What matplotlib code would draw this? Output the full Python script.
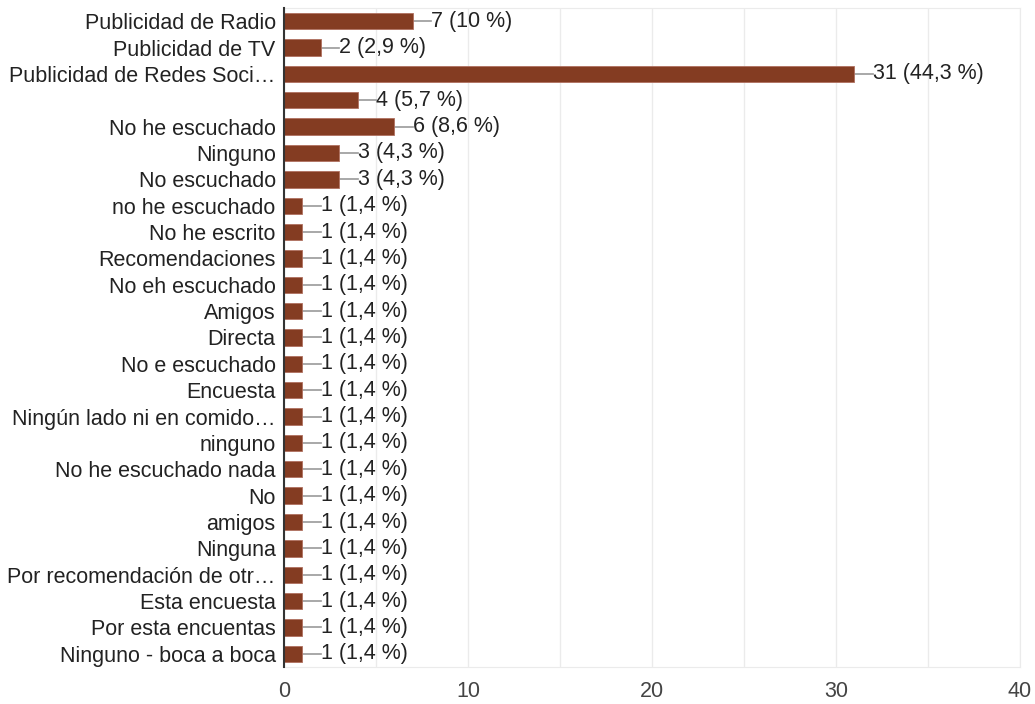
import matplotlib.pyplot as plt
from matplotlib.ticker import MultipleLocator

plt.rcParams['font.family'] = ['Liberation Sans', 'DejaVu Sans']

categories = [
    'Publicidad de Radio', 'Publicidad de TV', 'Publicidad de Redes Soci…', '',
    'No he escuchado', 'Ninguno', 'No escuchado', 'no he escuchado',
    'No he escrito', 'Recomendaciones', 'No eh escuchado', 'Amigos', 'Directa',
    'No e escuchado', 'Encuesta', 'Ningún lado ni en comido…', 'ninguno',
    'No he escuchado nada', 'No', 'amigos', 'Ninguna',
    'Por recomendación de otr…', 'Esta encuesta', 'Por esta encuentas',
    'Ninguno - boca a boca',
]
counts = [7, 2, 31, 4, 6, 3, 3] + [1] * 18
percents = ['10', '2,9', '44,3', '5,7', '8,6', '4,3', '4,3'] + ['1,4'] * 18

bar_color = '#843c22'
text_color = '#222222'
fs = 15.5

fig = plt.figure(figsize=(10.35, 7.04), dpi=100)
ax = fig.add_axes([0.2744, 0.0526, 0.7111, 0.936])

y = list(range(len(categories)))
ax.barh(y, counts, height=0.62, color=bar_color, edgecolor='#b07060', linewidth=0.6, zorder=3)

for yi, c, p in zip(y, counts, percents):
    ax.plot([c, c + 1.0], [yi, yi], color='#999999', lw=1.2, zorder=2)
    ax.text(c + 1.0, yi, f'{c} ({p} %)', va='center', ha='left',
            fontsize=fs, color=text_color, zorder=4)

ax.set_yticks(y)
ax.set_yticklabels(categories, fontsize=fs, color=text_color)
ax.set_ylim(len(categories) - 0.5, -0.5)
ax.set_xlim(0, 40)
ax.xaxis.set_major_locator(MultipleLocator(10))
ax.xaxis.set_minor_locator(MultipleLocator(5))
ax.tick_params(axis='x', which='both', length=0, labelsize=fs, labelcolor='#444444', pad=10)
ax.tick_params(axis='y', length=0, pad=6)
ax.grid(axis='x', which='both', color='#ebebeb', lw=1, zorder=0)

for side in ['top', 'right', 'bottom']:
    ax.spines[side].set_color('#ebebeb')
ax.spines['left'].set_color('#333333')
ax.spines['left'].set_linewidth(1.5)
ax.spines['left'].set_zorder(5)

fig.savefig('out.png', dpi=100)
